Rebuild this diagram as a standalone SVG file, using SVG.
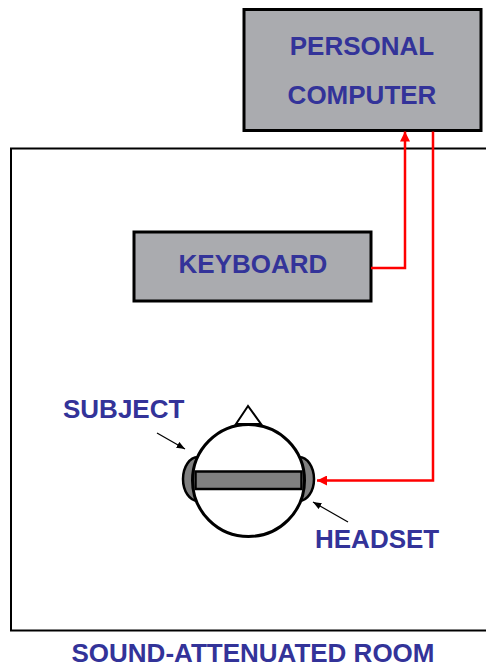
<svg xmlns="http://www.w3.org/2000/svg" width="486" height="668" viewBox="0 0 486 668">
  <style>
    .lbl { font-family: "Liberation Sans", Arial, Helvetica, sans-serif; font-weight: bold; font-size: 26px; fill: #333399; }
    .box { fill: #aaabaf; stroke: #000; stroke-width: 3; }
    .wire { fill: none; stroke: #ff0000; stroke-width: 2.5; }
    .pointer { fill: none; stroke: #000; stroke-width: 1.2; }
    .ear { fill: #808080; stroke: #000; stroke-width: 2.5; }
  </style>
  <defs>
    <marker id="redHead" viewBox="0 0 10 10" refX="10" refY="5" markerWidth="4" markerHeight="4" orient="auto">
      <path d="M0,0 L10,5 L0,10 z" fill="#ff0000"/>
    </marker>
    <marker id="blackHead" viewBox="0 0 10 10" refX="10" refY="5" markerWidth="7" markerHeight="7" orient="auto">
      <path d="M0,1 L10,5 L0,9 z" fill="#000"/>
    </marker>
  </defs>

  <rect width="486" height="668" fill="#fff"/>

  <!-- room outline -->
  <g id="room">
    <rect x="11" y="148.5" width="490" height="482" fill="none" stroke="#000" stroke-width="2"/>
    <text class="lbl" x="253" y="662" text-anchor="middle">SOUND-ATTENUATED ROOM</text>
  </g>

  <g id="computer">
    <rect class="box" x="244" y="9.5" width="237" height="121"/>
    <text class="lbl" x="362" y="55" text-anchor="middle">PERSONAL</text>
    <text class="lbl" x="362" y="104" text-anchor="middle">COMPUTER</text>
  </g>

  <g id="keyboard">
    <rect class="box" x="134" y="232" width="237" height="69"/>
    <text class="lbl" x="253" y="273" text-anchor="middle">KEYBOARD</text>
  </g>

  <g id="subject">
    <!-- headset earpieces, partly hidden by the head -->
    <ellipse class="ear" cx="198" cy="479" rx="15" ry="22"/>
    <ellipse class="ear" cx="299" cy="479" rx="15" ry="22"/>
    <!-- nose -->
    <polygon points="248,406 236,424 261,424" fill="#fff" stroke="#000" stroke-width="2"/>
    <!-- head -->
    <circle cx="248.5" cy="480.5" r="56" fill="#fff" stroke="#000" stroke-width="3"/>
    <!-- headband -->
    <rect x="195.5" y="471.5" width="106" height="17.5" fill="#808080" stroke="#000" stroke-width="2.5"/>
    <text class="lbl" x="63" y="418">SUBJECT</text>
    <text class="lbl" x="315" y="548">HEADSET</text>
  </g>

  <g id="connectors">
    <!-- keyboard to computer -->
    <path class="wire" d="M371,268 H405 V131.5" marker-end="url(#redHead)"/>
    <!-- computer to headset -->
    <path class="wire" d="M433,131.5 V480.5 H317" marker-end="url(#redHead)"/>
    <!-- label pointers -->
    <line class="pointer" x1="157" y1="433" x2="185" y2="449" marker-end="url(#blackHead)"/>
    <line class="pointer" x1="348" y1="522" x2="313" y2="502" marker-end="url(#blackHead)"/>
  </g>
</svg>
